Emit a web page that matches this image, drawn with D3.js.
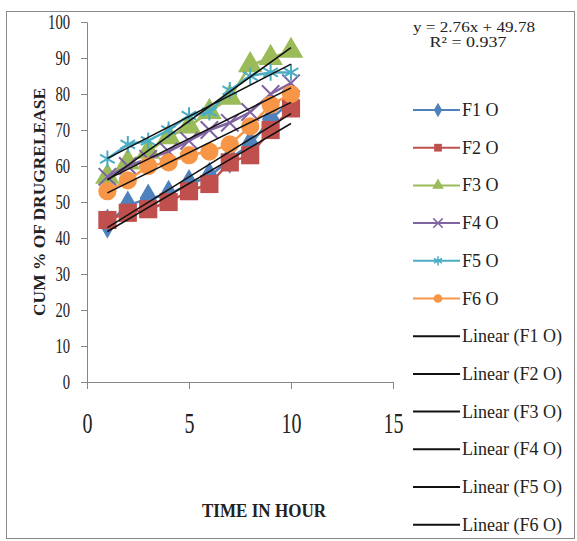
<!DOCTYPE html>
<html>
<head>
<meta charset="utf-8">
<script src="https://cdn.jsdelivr.net/npm/d3@7"></script>
<style>
  body { margin: 0; background: #fff; }
  text { font-family: "Liberation Serif", "DejaVu Serif", serif; fill: #222; }
</style>
</head>
<body>
<div id="chart"></div>
<script>
// data
const hours = [1, 2, 3, 4, 5, 6, 7, 8, 9, 10];
const seriesNames = ["F1 O", "F2 O", "F3 O", "F4 O", "F5 O", "F6 O"];
const f1 = [44, 49, 51, 52, 55, 57, 62, 66, 73, 78];
const f2 = [45, 47, 48, 50, 53, 55, 61, 63, 70, 76];
const f3 = [57, 61, 64, 68, 71, 75, 79, 88, 90, 92];
const f4 = [57, 60, 62, 64, 67, 70, 72, 75, 80, 83];
const f5 = [62, 66, 67, 70, 74, 75, 81, 85, 86, 86];
const f6 = [53, 56, 60, 61, 63, 64, 66, 71, 77, 80];
const yTicks = [0, 10, 20, 30, 40, 50, 60, 70, 80, 90, 100];
const xTicks = [0, 5, 10, 15];
const equation = ["y = 2.76x + 49.78", "R\u00b2 = 0.937"];

const colors = ["#4f81bd", "#c0504d", "#9bbb59", "#8064a2", "#4bacc6", "#f79646"];
const symbols = [d3.symbolDiamond, d3.symbolSquare, d3.symbolTriangle, d3.symbolTimes, d3.symbolAsterisk, d3.symbolCircle];
const strokeSym = [false, false, false, true, true, false];
const allSeries = [f1, f2, f3, f4, f5, f6];

const w = 577, h = 541;
const serif = "'Liberation Serif', 'DejaVu Serif', serif";

const svg = d3.select("#chart").append("svg")
  .attr("width", w)
  .attr("height", h);

// outer frame
svg.append("rect")
  .attr("x", 6.5).attr("y", 11.5)
  .attr("width", 568).attr("height", 527)
  .attr("fill", "none")
  .attr("stroke", "#8a8a8a");

const x = d3.scaleLinear().domain([0, 15]).range([87, 393]);
const y = d3.scaleLinear().domain([0, 100]).range([382, 22]);

// y axis
const yAxis = svg.append("g")
  .attr("transform", "translate(87,0)")
  .call(d3.axisLeft(y).tickValues(yTicks).tickSize(6).tickPadding(11))
  .attr("font-family", null);
yAxis.selectAll("path, line").attr("stroke", "#868686");
yAxis.selectAll("text")
  .style("font-size", "20px")
  .style("font-family", serif)
  .attr("fill", "#333")
  .each(function(d) {
    d3.select(this).attr("textLength", String(d).length * 7.3).attr("lengthAdjust", "spacingAndGlyphs");
  });

// x axis
const xAxis = svg.append("g")
  .attr("transform", "translate(0,382)")
  .call(d3.axisBottom(x).tickValues(xTicks).tickSize(7).tickSizeOuter(0))
  .attr("font-family", null);
xAxis.selectAll("path, line").attr("stroke", "#868686");
xAxis.selectAll("text")
  .style("font-size", "30px")
  .style("font-family", serif)
  .attr("fill", "#333")
  .attr("y", 51).attr("dy", 0)
  .each(function(d) {
    d3.select(this).attr("textLength", String(d).length * 10).attr("lengthAdjust", "spacingAndGlyphs");
  });

// axis titles
svg.append("text")
  .text("TIME IN HOUR")
  .attr("x", 264).attr("y", 517)
  .attr("text-anchor", "middle")
  .attr("textLength", 124).attr("lengthAdjust", "spacingAndGlyphs")
  .style("font-size", "19px").style("font-weight", "bold");

svg.append("text")
  .text("CUM % OF DRUGRELEASE")
  .attr("transform", "translate(45,202) rotate(-90)")
  .attr("text-anchor", "middle")
  .attr("textLength", 228).attr("lengthAdjust", "spacingAndGlyphs")
  .style("font-size", "16px").style("font-weight", "bold");

// series lines and markers
const line = d3.line().x((d, i) => x(hours[i])).y(d => y(d));
allSeries.forEach((s, k) => {
  svg.append("path")
    .datum(s)
    .attr("d", line)
    .attr("fill", "none")
    .attr("stroke", colors[k])
    .attr("stroke-width", 2.5);
  const sym = d3.symbol().type(symbols[k]).size(strokeSym[k] ? 200 : (k === 1 ? 330 : 260));
  svg.selectAll(null)
    .data(s)
    .enter()
    .append("path")
    .attr("transform", (d, i) => "translate(" + x(hours[i]) + "," + y(d) + ")")
    .attr("d", sym)
    .attr("fill", strokeSym[k] ? "none" : colors[k])
    .attr("stroke", strokeSym[k] ? colors[k] : "none")
    .attr("stroke-width", 2);
});

// linear trendlines
allSeries.forEach(s => {
  const mx = d3.mean(hours), my = d3.mean(s);
  const slope = d3.sum(hours, (t, i) => (t - mx) * (s[i] - my)) / d3.sum(hours, t => (t - mx) * (t - mx));
  const b = my - slope * mx;
  const x0 = d3.min(hours), x1 = d3.max(hours);
  svg.append("line")
    .attr("x1", x(x0)).attr("y1", y(b + slope * x0))
    .attr("x2", x(x1)).attr("y2", y(b + slope * x1))
    .attr("stroke", "#111")
    .attr("stroke-width", 1.5);
});

// trendline equation
svg.append("text").text(equation[0])
  .attr("x", 474).attr("y", 32)
  .attr("text-anchor", "middle")
  .attr("textLength", 122).attr("lengthAdjust", "spacingAndGlyphs")
  .style("font-size", "15px");
svg.append("text").text(equation[1])
  .attr("x", 468).attr("y", 47)
  .attr("text-anchor", "middle")
  .attr("textLength", 77).attr("lengthAdjust", "spacingAndGlyphs")
  .style("font-size", "15px");

// legend
const legend = svg.append("g").attr("id", "legend");
const step = 37.7;
seriesNames.forEach((name, k) => {
  const ly = 110 + k * step;
  legend.append("line")
    .attr("x1", 413).attr("x2", 460)
    .attr("y1", ly).attr("y2", ly)
    .attr("stroke", colors[k]).attr("stroke-width", 2);
  legend.append("path")
    .attr("transform", "translate(438," + ly + ")")
    .attr("d", d3.symbol().type(symbols[k]).size(60))
    .attr("fill", strokeSym[k] ? "none" : colors[k])
    .attr("stroke", strokeSym[k] ? colors[k] : "none")
    .attr("stroke-width", 1.5);
  legend.append("text").text(name)
    .attr("x", 462).attr("y", ly + 6)
    .style("font-size", "18px");
});
seriesNames.forEach((name, k) => {
  const ly = 110 + (k + 6) * step;
  legend.append("line")
    .attr("x1", 413).attr("x2", 460)
    .attr("y1", ly).attr("y2", ly)
    .attr("stroke", "#111").attr("stroke-width", 2);
  legend.append("text").text("Linear (" + name + ")")
    .attr("x", 462).attr("y", ly + 6)
    .attr("textLength", 100).attr("lengthAdjust", "spacingAndGlyphs")
    .style("font-size", "18px");
});
</script>
</body>
</html>
